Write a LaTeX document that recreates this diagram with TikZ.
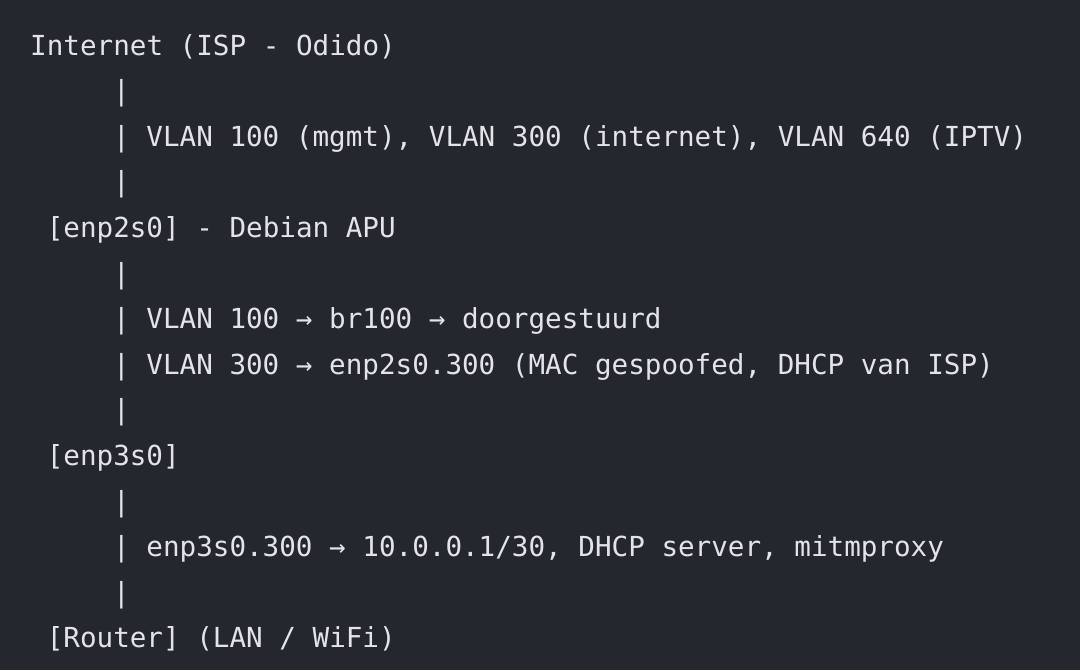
\documentclass[tikz,border=0pt]{standalone}
\usepackage{fontspec}
\setmonofont{DejaVu Sans Mono}
\definecolor{codebg}{HTML}{24282E}
\definecolor{codefg}{HTML}{E2E4E8}
\tikzset{
  code line/.style={
    anchor=base west,
    inner sep=0pt,
    text=codefg,
    font=\ttfamily\fontsize{27.6}{45.6}\selectfont,
  },
}

\begin{document}
\begin{tikzpicture}[x=1pt, y=-1pt]
        \fill[codebg] (0,0) rectangle (1080,670);
        \useasboundingbox (0,0) rectangle (1080,670);

        \node[code line] (inet)    at (30   , 55   ) {Internet (ISP - Odido)};
        \node[code line] (bara)    at (113  , 100.6) {|};
        \node[code line] (vlans)   at (113  , 146.2) {| VLAN 100 (mgmt), VLAN 300 (internet), VLAN 640 (IPTV)};
        \node[code line] (barb)    at (113  , 191.8) {|};
        \node[code line] (apu)     at (46.6 , 237.4) {[enp2s0] - Debian APU};
        \node[code line] (barc)    at (113  , 283  ) {|};
        \node[code line] (vlanmg)  at (113  , 328.6) {| VLAN 100 → br100 → doorgestuurd};
        \node[code line] (vlanin)  at (113  , 374.2) {| VLAN 300 → enp2s0.300 (MAC gespoofed, DHCP van ISP)};
        \node[code line] (bard)    at (113  , 419.8) {|};
        \node[code line] (lan)     at (46.6 , 465.4) {[enp3s0]};
        \node[code line] (bare)    at (113  , 511  ) {|};
        \node[code line] (subnet)  at (113  , 556.6) {| enp3s0.300 → 10.0.0.1/30, DHCP server, mitmproxy};
        \node[code line] (barf)    at (113  , 602.2) {|};
        \node[code line] (router)  at (46.6 , 647.8) {[Router] (LAN / WiFi)};
      \end{tikzpicture}
\end{document}
